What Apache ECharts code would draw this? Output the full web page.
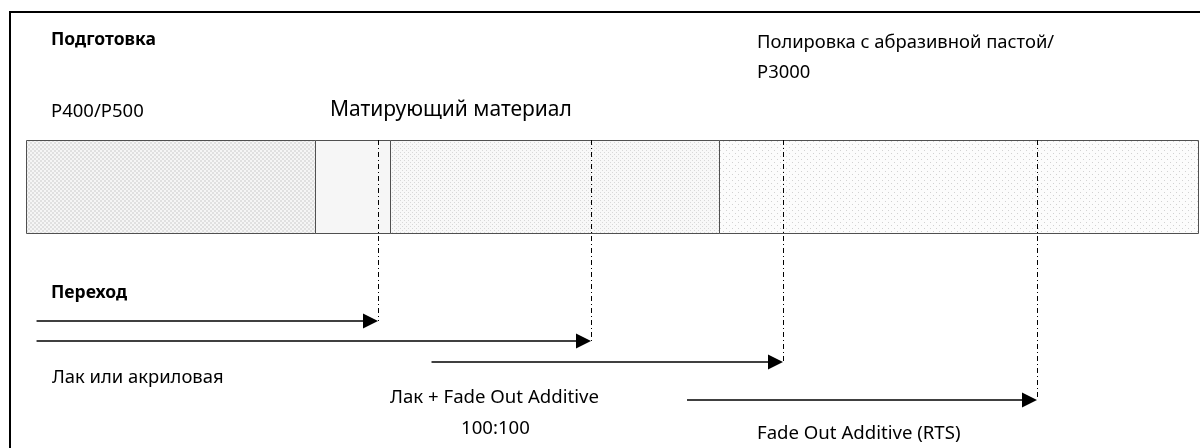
<!DOCTYPE html>
<html><head><meta charset="utf-8">
<script src="https://cdn.jsdelivr.net/npm/echarts@6/dist/echarts.min.js"></script>
<style>html,body{margin:0;padding:0;background:#fff}#c{width:1200px;height:448px}</style>
</head><body><div id="c"></div>
<script>
// ---- data (x in % of the band width, y in layout rows) ----
const segmentStarts   = [0, 24.7, 31.1, 59.1];
const segmentEnds     = [24.7, 31.1, 59.1, 100];
const segmentPatterns = ['checker', 'plain', 'fineDots', 'sparseDots'];
const bandRange       = [140, 233];
const markerX         = [30.0, 48.2, 64.6, 86.3];
const arrowStartX     = [0.9, 0.9, 34.6, 56.4];
const arrowRowY       = [321, 341, 362, 400];

const headingTexts = ['Подготовка', 'Переход'];
const stageTexts   = ['P400/P500', 'Матирующий материал', 'Полировка с абразивной пастой/', 'P3000'];
const arrowTexts   = ['Лак или акриловая', 'Лак + Fade Out Additive', '100:100', 'Fade Out Additive (RTS)'];

// ---- patterns ----
function makePattern(type) {
  const c = document.createElement('canvas');
  let s = 4;
  if (type === 'sparseDots') s = 6;
  c.width = s; c.height = s;
  const g = c.getContext('2d');
  if (type === 'checker') {
    g.fillStyle = '#f5f5f5'; g.fillRect(0, 0, s, s);
    g.fillStyle = '#e0e0e0'; g.fillRect(0, 0, 2, 2); g.fillRect(2, 2, 2, 2);
  } else if (type === 'plain') {
    g.fillStyle = '#f6f6f6'; g.fillRect(0, 0, s, s);
  } else if (type === 'fineDots') {
    g.fillStyle = '#f8f8f8'; g.fillRect(0, 0, s, s);
    g.fillStyle = '#d8d8d8'; g.fillRect(0, 0, 1, 1); g.fillRect(2, 2, 1, 1);
  } else {
    g.fillStyle = '#fcfcfc'; g.fillRect(0, 0, s, s);
    g.fillStyle = '#d2d2d2'; g.fillRect(0, 0, 1, 1); g.fillRect(3, 3, 1, 1);
  }
  return { image: c, repeat: 'repeat' };
}
const fills = segmentPatterns.map(makePattern);

const segData = segmentStarts.map((s, i) => [s, segmentEnds[i], bandRange[0], bandRange[1]]);
const markerData = markerX.map((x, i) => [x, bandRange[0], arrowRowY[i]]);
const arrowData = arrowStartX.map((x, i) => [x, markerX[i], arrowRowY[i]]);

const crisp = v => Math.round(v) + 0.5;
const FONT = '"Noto Sans", sans-serif';

const chart = echarts.init(document.getElementById('c'), null, { renderer: 'canvas' });
chart.setOption({
  animation: false,
  backgroundColor: '#fff',
  grid: { left: 26, right: 2, top: 0, bottom: 0 },
  xAxis: { type: 'value', min: 0, max: 100, show: false },
  yAxis: { type: 'value', min: 0, max: 448, inverse: true, show: false },
  series: [
    {
      type: 'custom', clip: false, data: segData,
      renderItem(params, api) {
        const p0 = api.coord([api.value(0), api.value(2)]);
        const p1 = api.coord([api.value(1), api.value(3)]);
        const x0 = crisp(p0[0]), y0 = crisp(p0[1]), x1 = crisp(p1[0]), y1 = crisp(p1[1]);
        return { type: 'rect', shape: { x: x0, y: y0, width: x1 - x0, height: y1 - y0 },
          style: { fill: fills[params.dataIndex], stroke: '#505050', lineWidth: 1 } };
      }
    },
    {
      type: 'custom', clip: false, data: markerData, z: 3,
      renderItem(params, api) {
        const p0 = api.coord([api.value(0), api.value(1)]);
        const p1 = api.coord([api.value(0), api.value(2)]);
        const x = crisp(p0[0]);
        return { type: 'line', shape: { x1: x, y1: p0[1], x2: x, y2: p1[1] },
          style: { stroke: '#000', lineWidth: 1, lineDash: [5, 3, 1, 3] } };
      }
    },
    {
      type: 'custom', clip: false, data: arrowData, z: 4,
      renderItem(params, api) {
        const p0 = api.coord([api.value(0), api.value(2)]);
        const p1 = api.coord([api.value(1), api.value(2)]);
        const y = Math.round(p0[1]);
        const tip = Math.round(p1[0]);
        const len = 15, half = 7.5;
        return { type: 'group', children: [
          { type: 'line', shape: { x1: p0[0], y1: y, x2: tip - len + 1, y2: y },
            style: { stroke: '#000', lineWidth: 1.6 } },
          { type: 'polygon', shape: { points: [[tip, y], [tip - len, y - half], [tip - len, y + half]] },
            style: { fill: '#000' } }
        ] };
      }
    }
  ],
  graphic: [
    { type: 'line', shape: { x1: 10, y1: 12, x2: 1200, y2: 12 }, style: { stroke: '#000', lineWidth: 2 } },
    { type: 'line', shape: { x1: 10, y1: 11, x2: 10, y2: 448 }, style: { stroke: '#000', lineWidth: 2 } },
    { type: 'text', x: 51, y: 40, style: { text: headingTexts[0], font: 'bold 17.5px ' + FONT, fill: '#000', verticalAlign: 'middle' } },
    { type: 'text', x: 51, y: 293, style: { text: headingTexts[1], font: 'bold 17.5px ' + FONT, fill: '#000', verticalAlign: 'middle' } },
    { type: 'text', x: 51, y: 112, style: { text: stageTexts[0], font: '18.5px ' + FONT, fill: '#000', verticalAlign: 'middle' } },
    { type: 'text', x: 330, y: 110, style: { text: stageTexts[1], font: '21px ' + FONT, fill: '#000', verticalAlign: 'middle' } },
    { type: 'text', x: 757, y: 43, style: { text: stageTexts[2], font: '18.4px ' + FONT, fill: '#000', verticalAlign: 'middle' } },
    { type: 'text', x: 757, y: 73, style: { text: stageTexts[3], font: '18.4px ' + FONT, fill: '#000', verticalAlign: 'middle' } },
    { type: 'text', x: 52, y: 378, style: { text: arrowTexts[0], font: '18.4px ' + FONT, fill: '#000', verticalAlign: 'middle' } },
    { type: 'text', x: 390, y: 398, style: { text: arrowTexts[1], font: '18.6px ' + FONT, fill: '#000', verticalAlign: 'middle' } },
    { type: 'text', x: 461, y: 429, style: { text: arrowTexts[2], font: '18.6px ' + FONT, fill: '#000', verticalAlign: 'middle' } },
    { type: 'text', x: 757, y: 434, style: { text: arrowTexts[3], font: '18.6px ' + FONT, fill: '#000', verticalAlign: 'middle' } }
  ]
});
</script></body></html>
